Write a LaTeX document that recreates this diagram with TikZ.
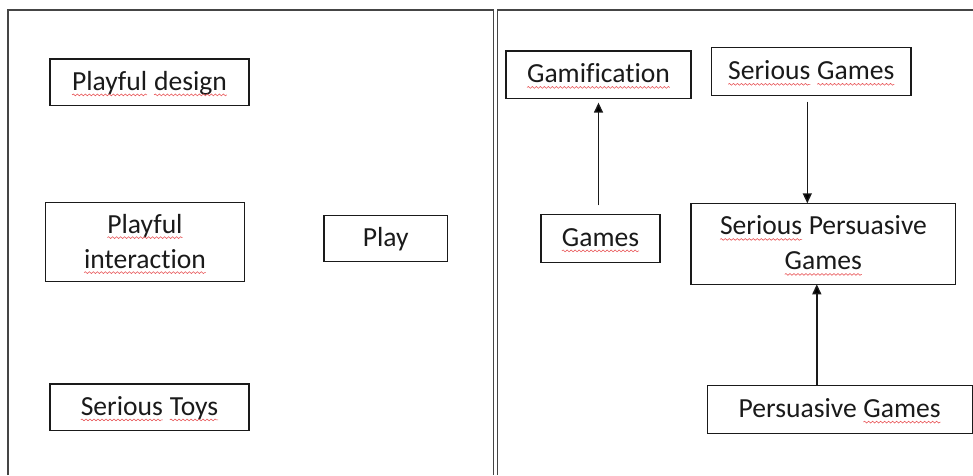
\documentclass[tikz,border=0pt]{standalone}
\usepackage{fontspec}
\setmainfont{Carlito}[Ligatures=NoCommon]
\usetikzlibrary{arrows.meta,decorations.pathmorphing}

\definecolor{ink}{HTML}{1A1A1A}
\definecolor{frame}{HTML}{454545}
\definecolor{squigred}{HTML}{E8585A}

% red wavy underline under a word (spell-check mark)
\newcommand\wavy[1]{\tikz[baseline=(w.base)]{%
  \node[inner sep=0pt,outer sep=0pt,draw=none,fill=none,shape=rectangle,
        minimum width=0pt,minimum height=0pt,text height=,text depth=,
        anchor=base] (w) {#1};
  \draw[squigred,line width=0.6pt,decorate,
        decoration={snake,segment length=4pt,amplitude=0.9pt}]
    ([yshift=-4.6pt]w.base west) -- ([yshift=-4.6pt]w.base east);}}

\tikzset{
  panel/.style={draw=frame,line width=1.6pt},
  box/.style={draw=ink,line width=1.5pt,inner sep=0pt,outer sep=0pt,
    text=ink,font=\fontsize{27.6}{35}\selectfont,align=center},
  oneline/.style={box,text height=21pt,text depth=5pt},
  twoline/.style={box,text height=57pt,text depth=5pt},
  arr/.style={draw=ink,line width=1.4pt,
    -{Triangle[length=10pt,width=9pt]}}
}

\begin{document}
\begin{tikzpicture}[x=1pt,y=-1pt]
  \useasboundingbox (0,0) rectangle (973,475);

  % two panels, running off the bottom and right edges
  \draw[panel] (8,475) |- (493.5,10) -- (493.5,475);
  \draw[panel] (497.5,475) |- (973,10);

  % left panel
  \node[oneline,minimum width=199pt,minimum height=46.5pt] (pd)
    at (149.5,82.3) {\wavy{Playful} \wavy{design}};
  \node[twoline,minimum width=198.6pt,minimum height=79.4pt] (pi)
    at (145,242) {\wavy{Playful}\\\wavy{interaction}};
  \node[oneline,minimum width=123.3pt,minimum height=46pt] (play)
    at (385.7,238.7) {Play};
  \node[oneline,minimum width=199pt,minimum height=46.7pt] (st)
    at (149.5,407.3) {\wavy{Serious} \wavy{Toys}};

  % right panel
  \node[oneline,minimum width=185pt,minimum height=47.7pt] (gam)
    at (598.5,74.8) {\wavy{Gamification}};
  \node[oneline,minimum width=199.3pt,minimum height=48pt] (sg)
    at (811.3,71.7) {\wavy{Serious} \wavy{Games}};
  \node[oneline,minimum width=119pt,minimum height=48pt] (games)
    at (600.5,238.3) {\wavy{Games}};
  \node[twoline,minimum width=264.7pt,minimum height=81pt] (spg)
    at (823.3,243.8) {\wavy{Serious} Persuasive\\\wavy{Games}};
  \node[oneline,minimum width=265pt,minimum height=47.7pt] (pg)
    at (839.8,409.5) {Persuasive \wavy{Games}};

  % connectors
  \draw[arr,shorten <=9pt,shorten >=4pt]
    (gam.south |- games.north) -- (gam.south);
  \draw[arr,shorten <=6pt]
    ([xshift=-4pt]sg.south) -- ([xshift=-4pt]sg.south |- spg.north);
  \draw[arr]
    ([xshift=-23pt]pg.north) -- ([xshift=-23pt]pg.north |- spg.south);
\end{tikzpicture}
\end{document}
